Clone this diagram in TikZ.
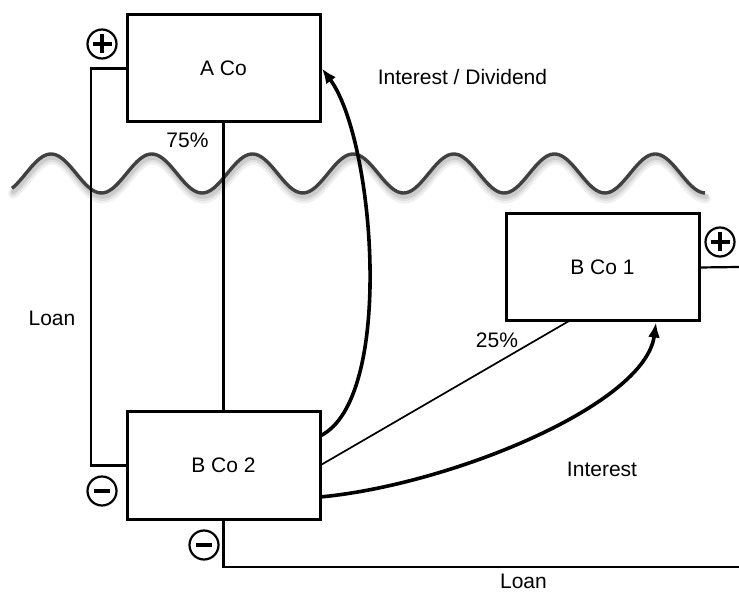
\documentclass[tikz,border=0pt]{standalone}
\usepackage{fontspec}
\setmainfont{Liberation Sans}
\usetikzlibrary{calc,arrows.meta}
\tikzset{
  company/.style={draw, line width=3pt, minimum width=193pt, minimum height=107pt, inner sep=0pt, outer sep=0pt, font=\fontsize{21}{25}\selectfont},
  lbl/.style={inner sep=0pt, font=\fontsize{21}{25}\selectfont},
  link/.style={line width=2.2pt},
  thinlink/.style={line width=1.7pt},
  flow/.style={line width=3.6pt, -{Latex[length=15pt,width=12pt]}},
  sign/.style={circle, draw, line width=2.2pt, minimum size=29pt, inner sep=0pt},
  signbar/.style={line width=3.6pt},
  wave/.style={line width=3.4pt, color=black!75},
}
\begin{document}
\begin{tikzpicture}[x=1pt, y=-1pt]
\useasboundingbox (0,0) rectangle (739,593);
% wave with soft shadow
\draw[line width=10pt, color=black!6, line cap=round] plot[domain=12:705, samples=300] ({\x+1}, {179-19.5*cos(3.575*(\x-51))});
\draw[line width=7pt, color=black!12, line cap=round] plot[domain=12:705, samples=300] ({\x+1}, {178-19.5*cos(3.575*(\x-51))});
\draw[line width=4.5pt, color=black!20, line cap=round] plot[domain=12:705, samples=300] ({\x+1}, {177-19.5*cos(3.575*(\x-51))});
\draw[wave] plot[domain=12:705, samples=300] (\x, {173.5-19.5*cos(3.575*(\x-51))});

% companies
\node[company] (aco) at (223.5,68.5) {A Co};
\node[company] (bco2) at (223.5,465.5) {B Co 2};
\node[company] (bco1) at (602.5,267.5) {B Co 1};

% free ends
\coordinate (loanend) at (739,567);
\coordinate (b1end) at (739,267);

% ownership lines
\draw[link] (aco.south) -- (bco2.north);
\draw[thinlink] (bco2.east) -- ($(bco1.south)+(-33.5,0)$);

% loans
\draw[link] (aco.west) -- ++(-36,0) |- (bco2.west);
\draw[link] (bco2.south) |- (loanend);
\draw[link] (bco1.east) -- (b1end);

% flows
\draw[flow] ($(bco2.east)+(0,-29.5)$) .. controls (395,400) and (375,140) .. ($(aco.east)+(2,0)$);
\draw[flow] ($(bco2.east)+(0,31.5)$) .. controls (450,485) and (645,405) .. ($(bco1.south)+(53.5,1.5)$);

% signs
\node[sign] (pA) at (102,44) {};
\draw[signbar] ($(pA)+(-9.5,0)$) -- ($(pA)+(9.5,0)$);
\draw[signbar] ($(pA)+(0,-9.5)$) -- ($(pA)+(0,9.5)$);
\node[sign] (pB) at (720,242) {};
\draw[signbar] ($(pB)+(-9.5,0)$) -- ($(pB)+(9.5,0)$);
\draw[signbar] ($(pB)+(0,-9.5)$) -- ($(pB)+(0,9.5)$);
\node[sign] (mL) at (102,491) {};
\draw[signbar] ($(mL)+(-8,0)$) -- ($(mL)+(8,0)$);
\node[sign] (mB) at (204,545) {};
\draw[signbar] ($(mB)+(-8,0)$) -- ($(mB)+(8,0)$);

% labels
\node[lbl] (l75) at (187.5,140) {75\%};
\node[lbl] (l25) at (497,340) {25\%};
\node[lbl] (lid) at (462.5,77) {Interest / Dividend};
\node[lbl] (lint) at (602,469) {Interest};
\node[lbl] (lloan1) at (52,318) {Loan};
\node[lbl] (lloan2) at (523.5,581) {Loan};
\end{tikzpicture}
\end{document}
